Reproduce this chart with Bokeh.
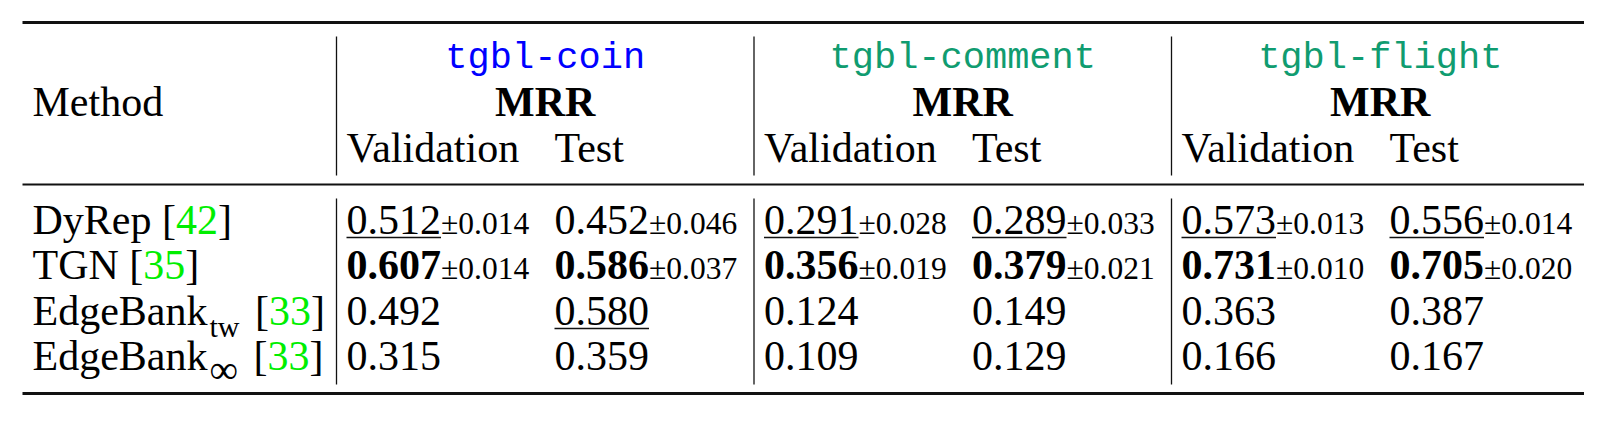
from collections import defaultdict
from bokeh.plotting import figure
from bokeh.models import Range1d, ColumnDataSource
from bokeh.core.properties import value
from bokeh.embed import file_html
from bokeh.resources import INLINE

# ---------------- data ----------------
datasets = ["tgbl-coin", "tgbl-comment", "tgbl-flight"]
dataset_colors = ["#0000ff", "#109c70", "#109c70"]
metric = "MRR"
splits = ["Validation", "Test"]
header_method = "Method"
methods = ["DyRep", "TGN", "EdgeBank", "EdgeBank"]
method_subs = ["", "", "tw", "∞"]
method_refs = ["42", "35", "33", "33"]

coin_val = [0.512, 0.607, 0.492, 0.315]
coin_val_std = [0.014, 0.014, None, None]
coin_test = [0.452, 0.586, 0.580, 0.359]
coin_test_std = [0.046, 0.037, None, None]
comment_val = [0.291, 0.356, 0.124, 0.109]
comment_val_std = [0.028, 0.019, None, None]
comment_test = [0.289, 0.379, 0.149, 0.129]
comment_test_std = [0.033, 0.021, None, None]
flight_val = [0.573, 0.731, 0.363, 0.166]
flight_val_std = [0.013, 0.010, None, None]
flight_test = [0.556, 0.705, 0.387, 0.167]
flight_test_std = [0.014, 0.020, None, None]

columns = [
    [(coin_val, coin_val_std), (coin_test, coin_test_std)],
    [(comment_val, comment_val_std), (comment_test, comment_test_std)],
    [(flight_val, flight_val_std), (flight_test, flight_test_std)],
]

# ---------------- layout ----------------
W, H = 1584, 414
OFF = 0
RULE_X0, RULE_X1 = 22, 1587
TOP_Y, MID_Y, BOT_Y = 22, 184, 393
VL0, GROUP_W = 336, 417.5
COL_OFF = [10, 218]
HEAD_Y = [69, 114, 160]
VHEAD = (36, 175)
VBODY = (198, 384)
ROW_Y0, ROW_DY = 232, 45.5
LABEL_X = 32
FS, FS_SMALL, FS_SUB, FS_TT = 42, 31.5, 30, 37
BASE_SHIFT = 0.30  # renderer baseline correction (fraction of font size)
SERIF = "Liberation Serif"
MONO = "Liberation Mono"
REF_GREEN = "#00ee00"
INK = "#000000"

# Times-compatible advance widths (em)
ADV = {' ': 0.25, '.': 0.25, '[': 0.333, ']': 0.333, 'D': 0.722, 'y': 0.5,
       'R': 0.667, 'e': 0.444, 'p': 0.5, 'T': 0.611, 'G': 0.722, 'N': 0.722,
       'E': 0.611, 'd': 0.5, 'g': 0.5, 'B': 0.667, 'a': 0.444, 'n': 0.5,
       'k': 0.5, 't': 0.278, 'w': 0.722, '±': 0.66, '∞': 0.713}
for c in "0123456789":
    ADV[c] = 0.5


def width(s, size):
    return sum(ADV.get(c, 0.5) for c in s) * size


items = []  # (x, y, text, size, color, font, style, align)


def add(x, y, text, size, color=INK, font=SERIF, style="normal", align="left"):
    items.append((x, y - BASE_SHIFT * size, text, size, color, font, style, align))


# header
add(LABEL_X, HEAD_Y[1], header_method, FS)
for g, name in enumerate(datasets):
    vx = VL0 + g * GROUP_W
    cx = vx + GROUP_W / 2
    add(cx, HEAD_Y[0], name, FS_TT, dataset_colors[g], MONO, "normal", "center")
    add(cx, HEAD_Y[1], metric, FS, INK, SERIF, "bold", "center")
    for k, sp in enumerate(splits):
        add(vx + COL_OFF[k], HEAD_Y[2], sp, FS)

# row labels
for i, m in enumerate(methods):
    y = ROW_Y0 + i * ROW_DY
    x = LABEL_X
    add(x, y, m, FS)
    x += width(m, FS)
    if method_subs[i]:
        sub = method_subs[i]
        sfs = FS_SUB if sub != "∞" else 40
        add(x + 2, y + 12, sub, sfs)
        x += 2 + width(sub, sfs) + 5
    x += width(" ", FS)
    add(x, y, "[", FS)
    x += width("[", FS)
    add(x, y, method_refs[i], FS, REF_GREEN)
    x += width(method_refs[i], FS)
    add(x, y, "]", FS)

# values
ul_x0, ul_x1, ul_y = [], [], []
for g, grp in enumerate(columns):
    vx = VL0 + g * GROUP_W
    for k, (vals, stds) in enumerate(grp):
        order = sorted(range(len(vals)), key=lambda j: -vals[j])
        best, second = order[0], order[1]
        cx = vx + COL_OFF[k]
        for i, v in enumerate(vals):
            y = ROW_Y0 + i * ROW_DY
            s = f"{v:.3f}"
            add(cx, y, s, FS, INK, SERIF, "bold" if i == best else "normal")
            w = width(s, FS)
            if i == second:
                ul_x0.append(cx)
                ul_x1.append(cx + w)
                ul_y.append(y + 5)
            if stds[i] is not None:
                add(cx + w, y, f"±{stds[i]:.3f}", FS_SMALL)

# ---------------- figure ----------------
p = figure(width=W, height=H, x_range=Range1d(OFF, OFF + W),
           y_range=Range1d(OFF + H, OFF), output_backend="svg",
           toolbar_location=None, min_border=0)
p.axis.visible = False
p.grid.visible = False
p.outline_line_color = None
p.background_fill_color = "white"
p.border_fill_color = "white"

# rules
p.segment(x0=[RULE_X0] * 3, x1=[RULE_X1] * 3, y0=[TOP_Y, MID_Y, BOT_Y],
          y1=[TOP_Y, MID_Y, BOT_Y], line_color="#111111",
          line_width=[3, 2, 3])
vxs = [VL0 + g * GROUP_W for g in range(len(datasets))]
p.segment(x0=vxs * 2, x1=vxs * 2, y0=[VHEAD[0]] * 3 + [VBODY[0]] * 3,
          y1=[VHEAD[1]] * 3 + [VBODY[1]] * 3, line_color="#111111",
          line_width=1.3)
p.segment(x0=ul_x0, x1=ul_x1, y0=ul_y, y1=ul_y, line_color="#111111",
          line_width=1.6)

groups = defaultdict(lambda: defaultdict(list))
for (x, y, t, size, color, font, style, align) in items:
    d = groups[(font, style, align)]
    d["x"].append(x)
    d["y"].append(y)
    d["text"].append(t)
    d["size"].append(f"{size}px")
    d["color"].append(color)

for (font, style, align), d in groups.items():
    src = ColumnDataSource(dict(d))
    p.text(x="x", y="y", text="text", source=src, text_font=value(font),
           text_font_size="size", text_color="color", text_font_style=style,
           text_align=align, text_baseline="alphabetic")

open("out.html", "w").write(file_html(p, INLINE))
